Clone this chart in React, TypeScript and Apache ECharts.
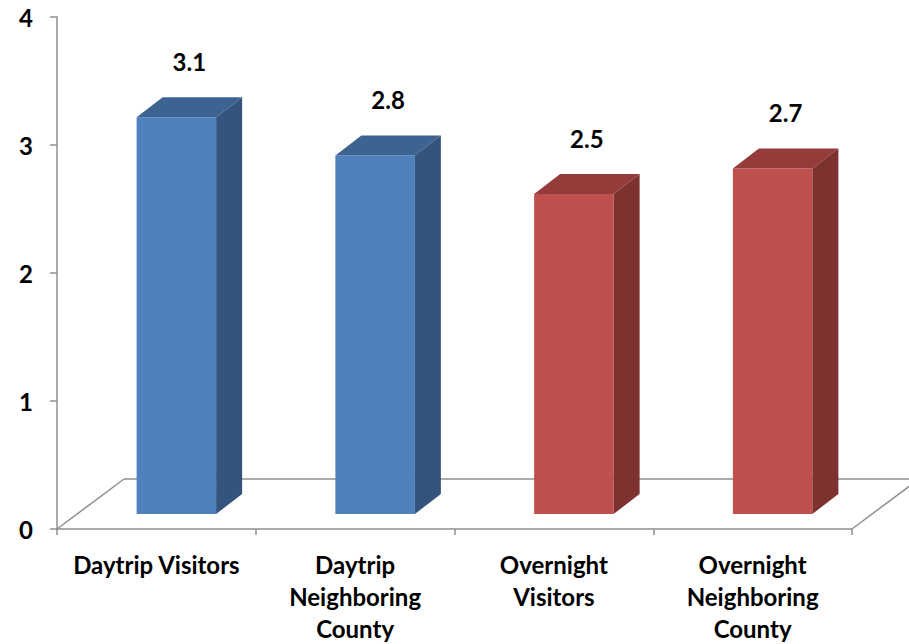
import React, { useEffect, useRef } from "react";
import * as echarts from "echarts";

const categories = [
  "Daytrip Visitors",
  "Daytrip\nNeighboring\nCounty",
  "Overnight\nVisitors",
  "Overnight\nNeighboring\nCounty",
];
const values = [3.1, 2.8, 2.5, 2.7];
const groups = ["Daytrip", "Daytrip", "Overnight", "Overnight"];
const yTicks = [0, 1, 2, 3, 4];

const palette: Record<string, { front: string; top: string; side: string }> = {
  Daytrip: { front: "#4F81BD", top: "#3D6491", side: "#34547E" },
  Overnight: { front: "#C0504D", top: "#953C3A", side: "#7E3230" },
};

const FONT = "Lato, 'Open Sans', sans-serif";

export default function App() {
  const ref = useRef<HTMLDivElement>(null);
  useEffect(() => {
    if (!ref.current) return;
    const chart = echarts.init(ref.current, null, { renderer: "svg" });
    const floorDX = 67;
    const floorDY = -50;
    const shiftDX = 20;
    const shiftDY = -15;
    const depthDX = 26;
    const depthDY = -20;
    const lineColor = "#8F8F8F";

    chart.setOption({
      animation: false,
      backgroundColor: "#ffffff",
      grid: { left: 57, width: 795, top: 17, height: 515 },
      xAxis: {
        type: "category",
        data: categories,
        boundaryGap: true,
        axisLine: { show: true, lineStyle: { color: lineColor, width: 1.5 } },
        axisTick: { show: true, alignWithLabel: false, length: 6, lineStyle: { color: lineColor, width: 1.5 } },
        axisLabel: {
          interval: 0,
          margin: 19,
          color: "#000",
          fontFamily: FONT,
          fontWeight: "bold",
          fontSize: 24,
          lineHeight: 32,
          align: "center",
        },
      },
      yAxis: {
        type: "value",
        min: yTicks[0],
        max: yTicks[yTicks.length - 1],
        interval: 1,
        splitLine: { show: false },
        axisLine: { show: true, lineStyle: { color: lineColor, width: 1.5 } },
        axisTick: { show: true, length: 7, lineStyle: { color: lineColor, width: 1.5 } },
        axisLabel: {
          margin: 24,
          color: "#000",
          fontFamily: FONT,
          fontWeight: "bold",
          fontSize: 24,
          padding: [5, 0, 0, 0],
        },
      },
      series: [
        {
          type: "custom",
          z: 1,
          clip: false,
          data: [[0, 0]],
          silent: true,
          renderItem: (params: any, api: any) => {
            const cs = params.coordSys;
            const x0 = cs.x;
            const x1 = cs.x + cs.width;
            const yb = cs.y + cs.height;
            const style = { stroke: lineColor, lineWidth: 1.5, fill: null };
            return {
              type: "group",
              children: [
                { type: "line", shape: { x1: x0, y1: yb, x2: x0 + floorDX, y2: yb + floorDY }, style },
                { type: "line", shape: { x1: x0 + floorDX, y1: yb + floorDY, x2: x1 + floorDX, y2: yb + floorDY }, style },
                { type: "line", shape: { x1: x1, y1: yb, x2: x1 + floorDX, y2: yb + floorDY }, style },
              ],
            };
          },
        },
        {
          type: "custom",
          z: 2,
          clip: false,
          data: values.map((v, i) => [i, v]),
          renderItem: (params: any, api: any) => {
            const i = api.value(0);
            const v = api.value(1);
            const top = api.coord([i, v]);
            const base = api.coord([i, 0]);
            const catW = api.size([1, 0])[0];
            const bw = catW * 0.4;
            const cx = top[0] + shiftDX;
            const xl = cx - bw / 2;
            const xr = cx + bw / 2;
            const yt = top[1] + shiftDY;
            const yb = base[1] + shiftDY;
            const c = palette[groups[params.dataIndex]];
            return {
              type: "group",
              children: [
                {
                  type: "rect",
                  shape: { x: xl, y: yt, width: bw, height: yb - yt },
                  style: { fill: c.front },
                },
                {
                  type: "polygon",
                  shape: {
                    points: [
                      [xl, yt],
                      [xr, yt],
                      [xr + depthDX, yt + depthDY],
                      [xl + depthDX, yt + depthDY],
                    ],
                  },
                  style: { fill: c.top },
                },
                {
                  type: "polygon",
                  shape: {
                    points: [
                      [xr, yt],
                      [xr + depthDX, yt + depthDY],
                      [xr + depthDX, yb + depthDY],
                      [xr, yb],
                    ],
                  },
                  style: { fill: c.side },
                },
                {
                  type: "text",
                  style: {
                    text: String(v),
                    x: cx + depthDX / 2,
                    y: yt + depthDY - 36,
                    align: "center",
                    verticalAlign: "middle",
                    fill: "#000",
                    font: `bold 24px ${FONT}`,
                  },
                },
              ],
            };
          },
        },
      ],
    });
    return () => chart.dispose();
  }, []);
  return (
    <div
      ref={ref}
      style={{ position: "fixed", left: 0, top: 0, width: 909, height: 644, background: "#fff" }}
    />
  );
}
